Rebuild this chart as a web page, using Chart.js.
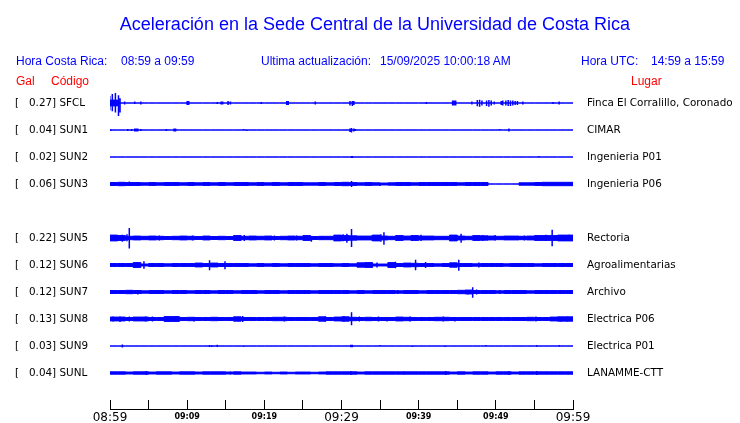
<!DOCTYPE html>
<html>
<head>
<meta charset="utf-8">
<title>Aceleración en la Sede Central de la Universidad de Costa Rica</title>
<script src="https://cdn.jsdelivr.net/npm/chart.js@4.4.1/dist/chart.umd.min.js"></script>
<style>
  body { margin: 0; background: #fff; }
  #wrap { position: relative; width: 740px; height: 423px; overflow: hidden; }
  #c { position: absolute; left: 0; top: 0; }
  .t { position: absolute; white-space: pre; font-family: "Liberation Sans", Arial, sans-serif;
       font-size: 12px; line-height: 12px; color: #0000ff; }
  .red { color: #ff0000; }
  #title { left: 0; width: 750px; text-align: center; top: 15px; font-size: 18px; line-height: 18px; }
</style>
</head>
<body>
<div id="wrap">
  <canvas id="c" width="740" height="423"></canvas>
  <div class="t" id="title">Aceleración en la Sede Central de la Universidad de Costa Rica</div>
  <div class="t" style="left:16px;top:55px">Hora Costa Rica:</div>
  <div class="t" style="left:121px;top:55px">08:59 a 09:59</div>
  <div class="t" style="left:261px;top:55px">Ultima actualización:</div>
  <div class="t" style="left:380px;top:55px">15/09/2025 10:00:18 AM</div>
  <div class="t" style="left:581px;top:55px">Hora UTC:</div>
  <div class="t" style="left:651px;top:55px">14:59 a 15:59</div>
  <div class="t red" style="left:16px;top:75px">Gal</div>
  <div class="t red" style="left:51px;top:75px">Código</div>
  <div class="t red" style="left:631px;top:75px">Lugar</div>
</div>
<script>
// estaciones (SUN4 no tiene señal: queda el hueco en la fila 4)
const stations = ['SFCL', 'SUN1', 'SUN2', 'SUN3', 'SUN5', 'SUN6', 'SUN7', 'SUN8', 'SUN9', 'SUNL'];
const peakGal = ['0.27', '0.04', '0.02', '0.06', '0.22', '0.12', '0.12', '0.13', '0.03', '0.04'];
const places = ['Finca El Corralillo, Coronado', 'CIMAR', 'Ingenieria P01', 'Ingenieria P06', 'Rectoria',
  'Agroalimentarias', 'Archivo', 'Electrica P06', 'Electrica P01', 'LANAMME-CTT'];
const rowSlot = [0, 1, 2, 3, 5, 6, 7, 8, 9, 10];
const timeLabels = ['08:59', '09:09', '09:19', '09:29', '09:39', '09:49', '09:59'];

// envolvente de ruido por minuto (Gal, media amplitud)
const bandSFCL = [0.15, 0.06, 0, 0, 0, 0, 0, 0, 0, 0, 0, 0, 0, 0, 0, 0, 0, 0, 0, 0,
  0, 0, 0, 0, 0, 0, 0, 0, 0, 0, 0, 0, 0, 0, 0, 0, 0, 0, 0, 0,
  0, 0, 0, 0, 0, 0, 0, 0, 0, 0, 0, 0, 0, 0, 0, 0, 0, 0, 0, 0];
const bandSUN1 = [0, 0, 0, 0, 0, 0, 0, 0, 0, 0, 0, 0, 0, 0, 0, 0, 0, 0, 0, 0,
  0, 0, 0, 0, 0, 0, 0, 0, 0, 0, 0, 0, 0, 0, 0, 0, 0, 0, 0, 0,
  0, 0, 0, 0, 0, 0, 0, 0, 0, 0, 0, 0, 0, 0, 0, 0, 0, 0, 0, 0];
const bandSUN2 = [0, 0, 0, 0, 0, 0, 0, 0, 0, 0, 0, 0, 0, 0, 0, 0, 0, 0, 0, 0,
  0, 0, 0, 0, 0, 0, 0, 0, 0, 0, 0, 0, 0, 0, 0, 0, 0, 0, 0, 0,
  0, 0, 0, 0, 0, 0, 0, 0, 0, 0, 0, 0, 0, 0, 0, 0, 0, 0, 0, 0];
const bandSUN3 = [0.015, 0.03, 0.035, 0.03, 0.03, 0.025, 0.03, 0.025, 0.03, 0.03,
  0.025, 0.03, 0.025, 0.03, 0.025, 0.03, 0.025, 0.03, 0.03, 0.025,
  0.03, 0.025, 0.03, 0.025, 0.03, 0.03, 0.025, 0.025, 0.03, 0.025,
  0.03, 0.035, 0.03, 0.025, 0.03, 0.025, 0.02, 0.025, 0.03, 0.03,
  0.025, 0.03, 0.03, 0.03, 0.03, 0.03, 0.025, 0.03, 0.03, 0.03,
  0, 0, 0, 0, 0.025, 0.025, 0.03, 0.035, 0.035, 0.035];
const bandSUN5 = [0.05, 0.06, 0.05, 0.035, 0.04, 0.035, 0.04, 0.035, 0.03, 0.035,
  0.04, 0.035, 0.03, 0.04, 0.03, 0.035, 0.03, 0.05, 0.035, 0.04,
  0.035, 0.04, 0.03, 0.035, 0.04, 0.035, 0.05, 0.03, 0.035, 0.035,
  0.06, 0.05, 0.045, 0.04, 0.04, 0.06, 0.04, 0.035, 0.05, 0.04,
  0.05, 0.04, 0.04, 0.035, 0.035, 0.06, 0.04, 0.035, 0.05, 0.045,
  0.04, 0.035, 0.04, 0.04, 0.035, 0.04, 0.05, 0.05, 0.05, 0.06];
const bandSUN6 = [0.025, 0.03, 0.03, 0.03, 0.05, 0.02, 0.03, 0.03, 0.025, 0.03,
  0.03, 0.03, 0.04, 0.03, 0.04, 0.03, 0.03, 0.03, 0.03, 0.025,
  0.03, 0.025, 0.03, 0.025, 0.03, 0.03, 0.03, 0.025, 0.03, 0.03,
  0.025, 0.03, 0.025, 0.045, 0.05, 0.02, 0.02, 0.05, 0.03, 0.04,
  0.035, 0.03, 0.03, 0.025, 0.03, 0.045, 0.03, 0.03, 0.025, 0.03,
  0.03, 0.03, 0.025, 0.03, 0.03, 0.03, 0.025, 0.03, 0.03, 0.03];
const bandSUN7 = [0.03, 0.03, 0.03, 0.035, 0.03, 0.025, 0.03, 0.03, 0.025, 0.03,
  0.03, 0.025, 0.03, 0.03, 0.025, 0.03, 0.03, 0.025, 0.03, 0.03,
  0.025, 0.03, 0.03, 0.025, 0.03, 0.03, 0.03, 0.025, 0.03, 0.03,
  0.03, 0.03, 0.025, 0.03, 0.025, 0.03, 0.03, 0.03, 0.025, 0.03,
  0.03, 0.025, 0.03, 0.03, 0.03, 0.03, 0.035, 0.04, 0.03, 0.03,
  0.03, 0.025, 0.03, 0.03, 0.03, 0.025, 0.03, 0.03, 0.03, 0.03];
const bandSUN8 = [0.04, 0.04, 0.04, 0.03, 0.04, 0.04, 0.03, 0.03, 0.05, 0.05,
  0.03, 0.035, 0.03, 0.03, 0.035, 0.03, 0.03, 0.045, 0.03, 0.03,
  0.03, 0.03, 0.035, 0.035, 0.03, 0.03, 0.03, 0.03, 0.045, 0.03,
  0.04, 0.045, 0.035, 0.03, 0.035, 0.03, 0.03, 0.03, 0.04, 0.035,
  0.03, 0.03, 0.03, 0.035, 0.035, 0.03, 0.03, 0.03, 0.03, 0.03,
  0.03, 0.03, 0.03, 0.03, 0.03, 0.035, 0.03, 0.03, 0.04, 0.045];
const bandSUN9 = [0, 0, 0, 0, 0, 0, 0, 0, 0, 0, 0, 0, 0, 0, 0, 0, 0, 0, 0, 0,
  0, 0, 0, 0, 0, 0, 0, 0, 0, 0, 0, 0, 0, 0, 0, 0, 0, 0, 0, 0,
  0, 0, 0, 0, 0, 0, 0, 0, 0, 0, 0, 0, 0, 0, 0, 0, 0, 0, 0, 0];
const bandSUNL = [0.02, 0.025, 0.025, 0.02, 0.025, 0.025, 0.02, 0.025, 0.025, 0.02,
  0.025, 0.025, 0.02, 0.025, 0.025, 0.025, 0.02, 0.025, 0.02, 0.02,
  0.015, 0.02, 0.015, 0.02, 0.015, 0.02, 0.02, 0.015, 0.02, 0.025,
  0.025, 0.025, 0.025, 0.02, 0.025, 0.025, 0.025, 0.025, 0.025, 0.025,
  0.025, 0.025, 0.025, 0.025, 0.025, 0.02, 0.025, 0.02, 0.025, 0.025,
  0.02, 0.025, 0.025, 0.02, 0.025, 0.025, 0.025, 0.025, 0.025, 0.025];

// picos: [minuto, arriba, abajo] en Gal
const spikesSFCL = [[0.3, 0.19, 0.17], [0.7, 0.21, 0.2], [1.1, 0.16, 0.27], [1.3, 0.1, 0.2],
  [1.9, 0.03, 0.03], [3.2, 0.03, 0.02], [4.0, 0.03, 0.03], [10.0, 0.04, 0.04], [10.2, 0.04, 0.04],
  [13.9, 0.02, 0.02], [14.4, 0.03, 0.03], [14.6, 0.03, 0.03], [15.3, 0.04, 0.04], [15.6, 0.03, 0.03],
  [19.6, 0.02, 0.02], [22.9, 0.04, 0.04], [23.1, 0.04, 0.04], [26.6, 0.03, 0.03], [31.1, 0.04, 0.05],
  [31.4, 0.04, 0.06], [31.6, 0.04, 0.04], [41.0, 0.02, 0.02], [44.4, 0.05, 0.05], [44.6, 0.05, 0.05],
  [44.8, 0.05, 0.05], [46.9, 0.03, 0.03], [47.6, 0.06, 0.07], [47.9, 0.07, 0.08], [48.2, 0.05, 0.05],
  [48.8, 0.05, 0.06], [49.1, 0.06, 0.08], [49.4, 0.05, 0.05], [49.8, 0.03, 0.03], [50.7, 0.04, 0.04],
  [50.9, 0.05, 0.05], [51.3, 0.05, 0.05], [51.6, 0.06, 0.06], [51.9, 0.05, 0.06], [52.2, 0.05, 0.05],
  [52.5, 0.04, 0.04], [52.8, 0.04, 0.04], [53.5, 0.03, 0.03], [57.4, 0.02, 0.02], [58.2, 0.03, 0.03]];
const spikesSUN1 = [[0.1, 0.01, 0.02], [2.3, 0.02, 0.02], [2.8, 0.02, 0.02], [3.2, 0.03, 0.03], [3.4, 0.03, 0.03],
  [3.6, 0.03, 0.03], [4.0, 0.02, 0.02], [7.3, 0.02, 0.02], [8.3, 0.03, 0.03], [8.5, 0.03, 0.03],
  [17.3, 0.02, 0], [17.7, 0, 0.02], [31.1, 0.03, 0.04], [31.3, 0.04, 0.05], [31.6, 0.03, 0.03],
  [31.8, 0.02, 0.02], [50.5, 0.02, 0], [51.7, 0.03, 0.03]];
const spikesSUN2 = [[31.3, 0.02, 0.02], [31.4, 0.02, 0.02], [55.6, 0.02, 0]];
const spikesSUN3 = [[2.5, 0.05, 0.04], [31.3, 0.06, 0.06], [35.0, 0.02, 0.04]];
const spikesSUN5 = [[1.6, 0.07, 0.08], [2.2, 0.08, 0.07], [2.5, 0.21, 0.22], [6.4, 0.05, 0.05], [10.7, 0.05, 0.05],
  [17.4, 0.06, 0.06], [21.3, 0.05, 0.05], [24.2, 0.05, 0.05], [26.1, 0.04, 0.08], [27.5, 0.04, 0.04],
  [30.2, 0.08, 0.07], [30.7, 0.09, 0.1], [31.3, 0.19, 0.19], [34.0, 0.06, 0.06], [35.1, 0.08, 0.08],
  [35.5, 0.12, 0.14], [39.1, 0.06, 0.06], [40.3, 0.07, 0.06], [45.5, 0.09, 0.1], [48.3, 0.06, 0.06],
  [49.9, 0.06, 0.05], [53.7, 0.05, 0.05], [55.6, 0.05, 0.05], [56.5, 0.07, 0.06], [57.3, 0.17, 0.17],
  [59.5, 0.07, 0.06]];
const spikesSUN6 = [[1.2, 0.04, 0.04], [4.4, 0.08, 0.08], [12.9, 0.1, 0.11], [14.9, 0.08, 0.09], [34.0, 0.05, 0.05],
  [34.6, 0.05, 0.05], [37.0, 0.07, 0.07], [39.6, 0.11, 0.11], [40.9, 0.06, 0.06], [45.2, 0.11, 0.12],
  [47.8, 0.05, 0.05], [51.9, 0.04, 0.04]];
const spikesSUN7 = [[2.6, 0.04, 0.04], [3.6, 0.04, 0.05], [4.0, 0.04, 0.04], [6.0, 0.03, 0.04], [9.5, 0.03, 0.04],
  [12.4, 0.04, 0.04], [14.8, 0.03, 0.04], [18.6, 0.04, 0.04], [19.0, 0.03, 0.04], [25.2, 0.04, 0.04],
  [28.8, 0.04, 0.04], [30.7, 0.03, 0.04], [37.3, 0.04, 0.04], [46.4, 0.04, 0.05], [47.0, 0.1, 0.12],
  [47.5, 0.05, 0.05], [50.5, 0.04, 0.04], [52.4, 0.04, 0.04], [55.8, 0.03, 0.03]];
const spikesSUN8 = [[0.4, 0.05, 0.05], [1.3, 0.05, 0.06], [2.5, 0.05, 0.05], [4.6, 0.05, 0.05], [5.5, 0.05, 0.05],
  [10.9, 0.04, 0.05], [14.2, 0.04, 0.04], [17.2, 0.06, 0.06], [22.6, 0.05, 0.05], [27.9, 0.05, 0.05],
  [30.3, 0.06, 0.05], [31.3, 0.14, 0.13], [32.3, 0.05, 0.05], [34.8, 0.05, 0.05], [35.9, 0.04, 0.05],
  [38.9, 0.05, 0.05], [43.2, 0.05, 0.05], [44.7, 0.04, 0.05], [47.8, 0.04, 0.04], [50.3, 0.04, 0.04],
  [53.6, 0.04, 0.04], [55.2, 0.05, 0.05], [58.4, 0.04, 0.05], [59.2, 0.05, 0.05]];
const spikesSUN9 = [[1.6, 0.03, 0.03], [12.9, 0.02, 0.02], [13.2, 0.01, 0.02], [13.9, 0.025, 0.02], [17.3, 0, 0.015],
  [31.2, 0.025, 0.025], [31.4, 0.025, 0.025], [35.0, 0.02, 0], [39.2, 0, 0.02], [43.4, 0, 0.02],
  [48.7, 0.02, 0], [55.3, 0.02, 0.01], [58.2, 0.02, 0.01]];
const spikesSUNL = [[4.7, 0.04, 0.04], [15.6, 0.03, 0.03], [31.2, 0.04, 0.04], [38.1, 0.03, 0.03],
  [43.5, 0.04, 0.04], [51.7, 0.04, 0.04], [55.3, 0.04, 0.04]];

const bands = [bandSFCL, bandSUN1, bandSUN2, bandSUN3, bandSUN5, bandSUN6, bandSUN7, bandSUN8, bandSUN9, bandSUNL];
const spikes = [spikesSFCL, spikesSUN1, spikesSUN2, spikesSUN3, spikesSUN5, spikesSUN6, spikesSUN7, spikesSUN8, spikesSUN9, spikesSUNL];

const BLUE = '#0000ff';
const ROW = 0.5625; // separacion entre trazas, en Gal

const datasets = [];
stations.forEach((s, i) => {
  const base = (10 - rowSlot[i]) * ROW;
  const b = bands[i];
  const upper = b.map((a, m) => ({ x: m, y: base + a }));
  upper.push({ x: 60, y: base + b[59] });
  const lower = b.map((a, m) => ({ x: m, y: base - a }));
  lower.push({ x: 60, y: base - b[59] });
  datasets.push({ label: s, data: upper, stepped: 'after', borderColor: BLUE, borderWidth: 1, pointRadius: 0, fill: false });
  datasets.push({ label: s, data: lower, stepped: 'after', borderColor: BLUE, borderWidth: 1, pointRadius: 0,
    fill: '-1', backgroundColor: BLUE });
  const sp = [];
  spikes[i].forEach(([t, u, d]) => { sp.push({ x: t, y: base + u }, { x: t, y: base - d }, { x: t, y: null }); });
  datasets.push({ label: s, data: sp, borderColor: BLUE, borderWidth: 1.5, pointRadius: 0, fill: false, spanGaps: false });
});

const rowTicks = s => { s.ticks = rowSlot.map(r => ({ value: (10 - r) * ROW })); };
// ancho fijo de los ejes laterales, sin relleno extra arriba/abajo
const fitSide = w => s => { s.width = w; s.paddingTop = 0; s.paddingBottom = 0; };

new Chart(document.getElementById('c'), {
  type: 'line',
  data: { datasets },
  options: {
    responsive: false,
    animation: false,
    events: [],
    layout: { padding: { top: 88, left: 15, right: 0, bottom: 0 } },
    plugins: { legend: { display: false }, tooltip: { enabled: false } },
    scales: {
      x: {
        type: 'linear', min: 0, max: 60, position: 'bottom',
        afterFit: s => { s.height = 14; },
        ticks: {
          stepSize: 5, autoSkip: false, maxRotation: 0, padding: 11, color: '#000',
          callback: v => (v % 10 === 0 ? timeLabels[v / 10] : ''),
          font: c => (c.tick && c.tick.value % 30 === 0)
            ? { family: "'DejaVu Sans', sans-serif", size: 12, lineHeight: 1.2 }
            : { family: "'DejaVu Sans', sans-serif", size: 8, weight: 'bold', lineHeight: 1.6 }
        },
        grid: { drawOnChartArea: false, drawTicks: true, tickLength: -9, color: '#000', lineWidth: 1 },
        border: { display: true, color: '#000', width: 1 }
      },
      y: {
        type: 'linear', position: 'left', min: -0.75, max: 5.9375,
        afterFit: fitSide(95),
        afterBuildTicks: rowTicks,
        ticks: {
          crossAlign: 'far', autoSkip: false, color: '#000',
          font: { family: "'DejaVu Sans', sans-serif", size: 10.4 },
          callback: (v, i) => `[   ${peakGal[i]}] ${stations[i]}`
        },
        grid: { display: false, drawTicks: false },
        border: { display: false }
      },
      y2: {
        type: 'linear', position: 'right', min: -0.75, max: 5.9375,
        afterFit: fitSide(167),
        afterBuildTicks: rowTicks,
        ticks: {
          padding: 14, autoSkip: false, color: '#000',
          font: { family: "'DejaVu Sans', sans-serif", size: 10.4 },
          callback: (v, i) => places[i]
        },
        grid: { display: false, drawTicks: false },
        border: { display: false }
      }
    }
  }
});
</script>
</body>
</html>
